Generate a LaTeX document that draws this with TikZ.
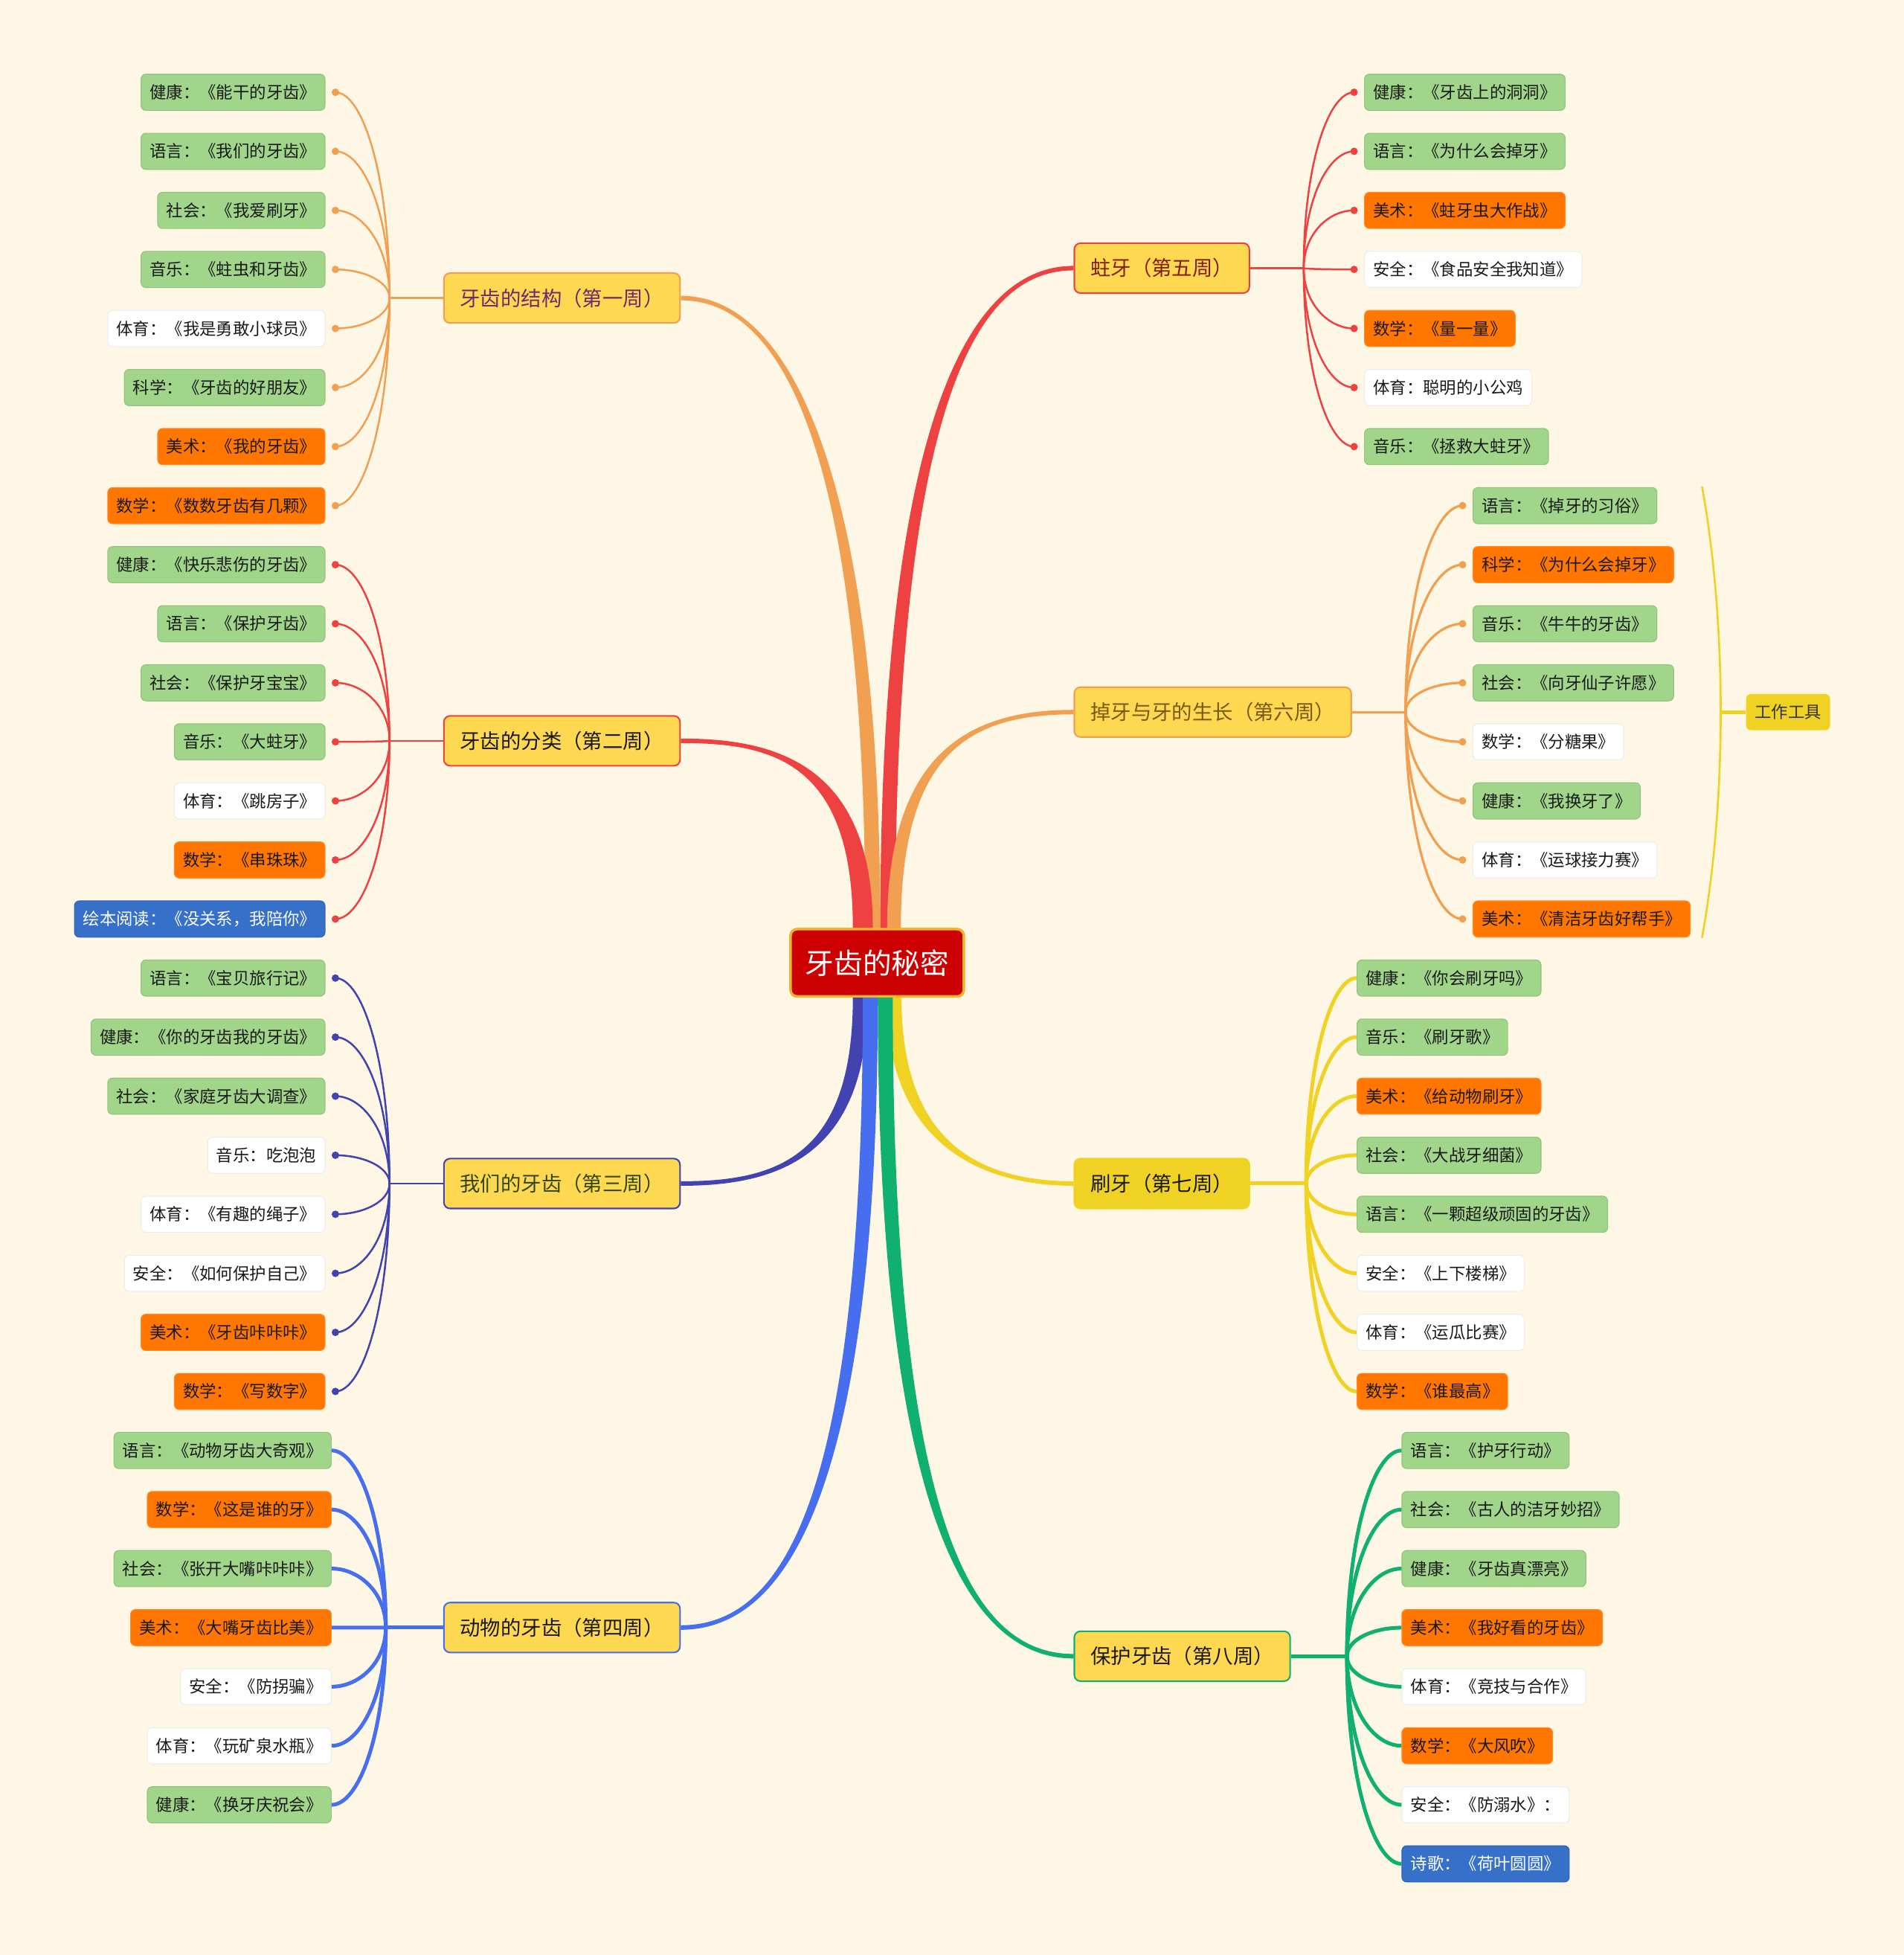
\documentclass[tikz,border=0pt]{standalone}
\usepackage{fontspec}
\newfontfamily\cjk{Noto Sans CJK SC}
\usetikzlibrary{calc}

\definecolor{paper}{RGB}{254,247,230}
\definecolor{rootred}{RGB}{204,0,0}
\definecolor{rootrim}{RGB}{240,180,40}
\definecolor{weekyellow}{RGB}{255,216,82}
\definecolor{orangeline}{RGB}{240,160,80}
\definecolor{redline}{RGB}{238,66,66}
\definecolor{indigoline}{RGB}{66,66,176}
\definecolor{blueline}{RGB}{70,110,238}
\definecolor{yellowline}{RGB}{240,210,36}
\definecolor{greenline}{RGB}{16,176,112}
\definecolor{leafgreen}{RGB}{160,213,138}
\definecolor{leaforange}{RGB}{255,118,0}
\definecolor{leafblue}{RGB}{54,112,200}
\definecolor{wonetxt}{RGB}{110,40,110}
\definecolor{wthreetxt}{RGB}{50,70,20}
\definecolor{wfivetxt}{RGB}{130,30,20}
\definecolor{wsixtxt}{RGB}{120,90,20}

% junction -> leaf connector
\newcommand\twig[3]{\draw[#1] (#2) .. controls ($(#2)!0.6!(#2 |- #3)$) and ($(#2 |- #3)!0.5!(#3)$) .. (#3);}
% tapered main branch: colour, root anchor, x shift, target, a, b, end offset, base half width
\newcommand\trunk[8]{%
  \coordinate (p0) at ($(#2)+(#3,0)$);
  \coordinate (p3) at (#4);
  \coordinate (k) at (p0 |- p3);
  \coordinate (p1) at ($(p0)!#5!(k)$);
  \coordinate (p2) at ($(p3)!#6!(k)$);
  \fill[#1] ($(p0)+(-#8,0)$) .. controls ($(p1)+(-#8,0)$) and ($(p2)+(0,#7)$) .. ($(p3)+(0,#7)$)
    -- ($(p3)-(0,#7)$) .. controls ($(p2)-(0,#7)$) and ($(p1)+(#8,0)$) .. ($(p0)+(#8,0)$) -- cycle;}

\begin{document}
\begin{tikzpicture}[x=0.02cm, y=-0.02cm,
    leaf/.style={rounded corners=2.2pt, inner xsep=0.14cm, inner ysep=0pt,
      minimum height=0.58cm, font=\cjk\fontsize{7.6}{9}\selectfont,
      text=black!90, line width=0.4pt},
    gleaf/.style={leaf, fill=leafgreen, draw=leafgreen!92!black},
    oleaf/.style={leaf, fill=leaforange, draw=leaforange!85!white},
    wleaf/.style={leaf, fill=white, draw=black!7},
    bleaf/.style={leaf, fill=leafblue, draw=leafblue!90!black, text=white},
    week/.style={rounded corners=2.8pt, fill=weekyellow, line width=0.7pt,
      inner xsep=0.26cm, minimum height=0.8cm,
      font=\cjk\fontsize{9.3}{11}\selectfont, text=black!90},
    twig/.style={line width=0.85pt},
    twigb/.style={line width=1.7pt}
  ]
  \useasboundingbox (0,0) rectangle (1527,1567.6);
  \fill[paper] (0,0) rectangle (1527,1567.6);

  % centre and weeks
  \node[rounded corners=3pt, fill=rootred, draw=rootrim, line width=1.2pt,
    minimum width=2.78cm, minimum height=1.08cm,
    font=\cjk\fontsize{13.1}{15}\selectfont, text=white] (root) at (703.5,772) {牙齿的秘密};

  \node[week, draw=orangeline, text=wonetxt, anchor=east] (w1) at (546,239) {牙齿的结构（第一周）};
  \node[week, draw=redline, anchor=east] (w2) at (546,594) {牙齿的分类（第二周）};
  \node[week, draw=indigoline, text=wthreetxt, anchor=east] (w3) at (546,949) {我们的牙齿（第三周）};
  \node[week, draw=blueline, anchor=east] (w4) at (546,1305) {动物的牙齿（第四周）};
  \node[week, draw=redline, text=wfivetxt, anchor=west] (w5) at (861,215) {蛀牙（第五周）};
  \node[week, draw=orangeline, text=wsixtxt, anchor=west] (w6) at (861,571) {掉牙与牙的生长（第六周）};
  \node[week, fill=yellowline, draw=yellowline, anchor=west] (w7) at (861,949) {刷牙（第七周）};
  \node[week, draw=greenline, anchor=west] (w8) at (861,1328) {保护牙齿（第八周）};

  % trunks
  \trunk{orangeline}{root.north}{-3.5}{w1.east}{0.68}{0.61}{1.8}{6}
  \trunk{redline}{root.north}{8.5}{w5.west}{0.84}{0.47}{-1.8}{6}
  \trunk{redline}{root.north}{-11.5}{w2.east}{0.89}{0.5}{1.8}{8}
  \trunk{orangeline}{root.north}{13.5}{w6.west}{0.83}{0.56}{-1.8}{5.5}
  \trunk{indigoline}{root.south}{-13.5}{w3.east}{0.87}{0.52}{-1.8}{6}
  \trunk{yellowline}{root.south}{13.5}{w7.west}{0.8}{0.5}{1.8}{6}
  \trunk{blueline}{root.south}{-5.5}{w4.east}{0.79}{0.55}{-1.8}{6}
  \trunk{greenline}{root.south}{6.5}{w8.west}{0.8}{0.54}{1.8}{6}

  % junctions
  \coordinate (j1) at ($(w1.west)+(-43,0)$);
  \coordinate (j2) at ($(w2.west)+(-43,0)$);
  \coordinate (j3) at ($(w3.west)+(-43,0)$);
  \coordinate (j4) at ($(w4.west)+(-46,0)$);
  \coordinate (j5) at ($(w5.east)+(43,0)$);
  \coordinate (j6) at ($(w6.east)+(43,0)$);
  \coordinate (j7) at ($(w7.east)+(45,0)$);
  \coordinate (j8) at ($(w8.east)+(45,0)$);
  \draw[twig, orangeline] (w1.west) -- (j1);
  \draw[twig, redline] (w2.west) -- (j2);
  \draw[twig, indigoline] (w3.west) -- (j3);
  \draw[twigb, blueline] (w4.west) -- (j4);
  \draw[twig, redline] (w5.east) -- (j5);
  \draw[twig, orangeline, line width=1.1pt] (w6.east) -- (j6);
  \draw[twigb, yellowline] (w7.east) -- (j7);
  \draw[twigb, greenline] (w8.east) -- (j8);

  % week 1
  \foreach \t/\s [count=\i from 0] in {
    健康：《能干的牙齿》/gleaf,
    语言：《我们的牙齿》/gleaf,
    社会：《我爱刷牙》/gleaf,
    音乐：《蛀虫和牙齿》/gleaf,
    体育：《我是勇敢小球员》/wleaf,
    科学：《牙齿的好朋友》/gleaf,
    美术：《我的牙齿》/oleaf,
    数学：《数数牙齿有几颗》/oleaf}{
    \node[\s, anchor=east] (a\i) at (261,{74+47.35*\i}) {\t};
    \coordinate (da\i) at ($(a\i.east)+(8,0)$);
    \twig{twig, orangeline}{j1}{da\i}
    \fill[orangeline] (da\i) circle (1.7pt);
  }

  % week 2
  \foreach \t/\s [count=\i from 8] in {
    健康：《快乐悲伤的牙齿》/gleaf,
    语言：《保护牙齿》/gleaf,
    社会：《保护牙宝宝》/gleaf,
    音乐：《大蛀牙》/gleaf,
    体育：《跳房子》/wleaf,
    数学：《串珠珠》/oleaf,
    绘本阅读：《没关系，我陪你》/bleaf}{
    \node[\s, anchor=east] (b\i) at (261,{74+47.35*\i}) {\t};
    \coordinate (db\i) at ($(b\i.east)+(8,0)$);
    \twig{twig, redline}{j2}{db\i}
    \fill[redline] (db\i) circle (1.7pt);
  }

  % week 3
  \foreach \t/\s [count=\i from 15] in {
    语言：《宝贝旅行记》/gleaf,
    健康：《你的牙齿我的牙齿》/gleaf,
    社会：《家庭牙齿大调查》/gleaf,
    音乐：吃泡泡/wleaf,
    体育：《有趣的绳子》/wleaf,
    安全：《如何保护自己》/wleaf,
    美术：《牙齿咔咔咔》/oleaf,
    数学：《写数字》/oleaf}{
    \node[\s, anchor=east] (c\i) at (261,{74+47.35*\i}) {\t};
    \coordinate (dc\i) at ($(c\i.east)+(8,0)$);
    \twig{twig, indigoline}{j3}{dc\i}
    \fill[indigoline] (dc\i) circle (1.7pt);
  }

  % week 4
  \foreach \t/\s [count=\i from 23] in {
    语言：《动物牙齿大奇观》/gleaf,
    数学：《这是谁的牙》/oleaf,
    社会：《张开大嘴咔咔咔》/gleaf,
    美术：《大嘴牙齿比美》/oleaf,
    安全：《防拐骗》/wleaf,
    体育：《玩矿泉水瓶》/wleaf,
    健康：《换牙庆祝会》/gleaf}{
    \node[\s, anchor=east] (d\i) at (266,{74+47.35*\i}) {\t};
    \twig{twigb, blueline}{j4}{d\i.east}
  }

  % week 5
  \foreach \t/\s [count=\i from 0] in {
    健康：《牙齿上的洞洞》/gleaf,
    语言：《为什么会掉牙》/gleaf,
    美术：《蛀牙虫大作战》/oleaf,
    安全：《食品安全我知道》/wleaf,
    数学：《量一量》/oleaf,
    体育：聪明的小公鸡/wleaf,
    音乐：《拯救大蛀牙》/gleaf}{
    \node[\s, anchor=west] (e\i) at (1094,{74+47.35*\i}) {\t};
    \coordinate (de\i) at ($(e\i.west)+(-8,0)$);
    \twig{twig, redline}{j5}{de\i}
    \fill[redline] (de\i) circle (1.7pt);
  }

  % week 6
  \foreach \t/\s [count=\i from 7] in {
    语言：《掉牙的习俗》/gleaf,
    科学：《为什么会掉牙》/oleaf,
    音乐：《牛牛的牙齿》/gleaf,
    社会：《向牙仙子许愿》/gleaf,
    数学：《分糖果》/wleaf,
    健康：《我换牙了》/gleaf,
    体育：《运球接力赛》/wleaf,
    美术：《清洁牙齿好帮手》/oleaf}{
    \node[\s, anchor=west] (f\i) at (1181,{74+47.35*\i}) {\t};
    \coordinate (df\i) at ($(f\i.west)+(-8,0)$);
    \twig{twig, orangeline, line width=1.1pt}{j6}{df\i}
    \fill[orangeline] (df\i) circle (1.7pt);
  }

  % week 7
  \foreach \t/\s [count=\i from 15] in {
    健康：《你会刷牙吗》/gleaf,
    音乐：《刷牙歌》/gleaf,
    美术：《给动物刷牙》/oleaf,
    社会：《大战牙细菌》/gleaf,
    语言：《一颗超级顽固的牙齿》/gleaf,
    安全：《上下楼梯》/wleaf,
    体育：《运瓜比赛》/wleaf,
    数学：《谁最高》/oleaf}{
    \node[\s, anchor=west] (g\i) at (1088,{74+47.35*\i}) {\t};
    \twig{twigb, yellowline}{j7}{g\i.west}
  }

  % week 8
  \foreach \t/\s [count=\i from 23] in {
    语言：《护牙行动》/gleaf,
    社会：《古人的洁牙妙招》/gleaf,
    健康：《牙齿真漂亮》/gleaf,
    美术：《我好看的牙齿》/oleaf,
    体育：《竞技与合作》/wleaf,
    数学：《大风吹》/oleaf,
    安全：《防溺水》：/wleaf,
    诗歌：《荷叶圆圆》/bleaf}{
    \node[\s, anchor=west] (h\i) at (1124,{74+47.35*\i}) {\t};
    \twig{twigb, greenline}{j8}{h\i.west}
  }

  % summary bracket of week 6
  \node[leaf, fill=yellowline, anchor=west, text=black!80] (tools) at (1400,571) {工作工具};
  \coordinate (brtop) at (1365,390);
  \coordinate (brbot) at (1365,752);
  \coordinate (brmid) at (1380,571);
  \draw[yellowline, line width=0.9pt] (brtop) .. controls (1385,500) and (1385,642) .. (brbot);
  \draw[yellowline, line width=1.6pt] (brmid) -- (tools.west);
\end{tikzpicture}
\end{document}
